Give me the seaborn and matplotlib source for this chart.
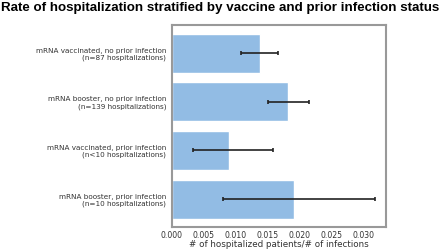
import matplotlib
matplotlib.use("Agg")
import matplotlib.pyplot as plt
import seaborn as sns
import pandas as pd
import numpy as np

categories = [
    "mRNA vaccinated, no prior infection\n(n=87 hospitalizations)",
    "mRNA booster, no prior infection\n(n=139 hospitalizations)",
    "mRNA vaccinated, prior infection\n(n<10 hospitalizations)",
    "mRNA booster, prior infection\n(n=10 hospitalizations)",
]
rates = [0.0138, 0.0182, 0.0090, 0.0191]
ci_low = [0.0109, 0.0151, 0.0034, 0.0081]
ci_high = [0.0167, 0.0215, 0.0159, 0.0319]
xticks = [0.000, 0.005, 0.010, 0.015, 0.020, 0.025, 0.030]

df = pd.DataFrame({"group": categories, "rate": rates})

sns.set_style("white")
fig = plt.figure(figsize=(4.4, 2.5), dpi=100)
ax = fig.add_axes([171.7/440, 1-227.3/250, (385.7-171.7)/440, (227.3-25)/250])

sns.barplot(data=df, y="group", x="rate", orient="h", color="#92bce4",
            saturation=1, width=0.8, ax=ax, errorbar=None)
ypos = np.arange(len(categories))
r = np.array(rates)
ax.errorbar(r, ypos, xerr=[r - np.array(ci_low), np.array(ci_high) - r],
            fmt="none", ecolor="#222222", elinewidth=1.2, capsize=1.5, capthick=1.2)

ax.set_xlim(0, 0.0335)
ax.set_ylim(3.58, -0.58)
ax.set_xticks(xticks)
ax.set_xticklabels([f"{t:.3f}" for t in xticks])
ax.set_ylabel("")
ax.set_xlabel("# of hospitalized patients/# of infections", fontsize=6.3, color="#333333", labelpad=0)
ax.tick_params(axis="x", labelsize=5.6, colors="#333333", length=2, width=0.6, pad=0.8)
ax.tick_params(axis="y", labelsize=5.2, colors="#333333", length=2, width=0.6, pad=2)
for s in ax.spines.values():
    s.set_color("#999999")
    s.set_linewidth(1.5)
    s.set_visible(True)

fig.suptitle("Rate of hospitalization stratified by vaccine and prior infection status",
             x=0.5, y=0.99, fontsize=9.6, fontweight="bold", family="Liberation Sans", color="black")
fig.savefig("out.png", dpi=100)
